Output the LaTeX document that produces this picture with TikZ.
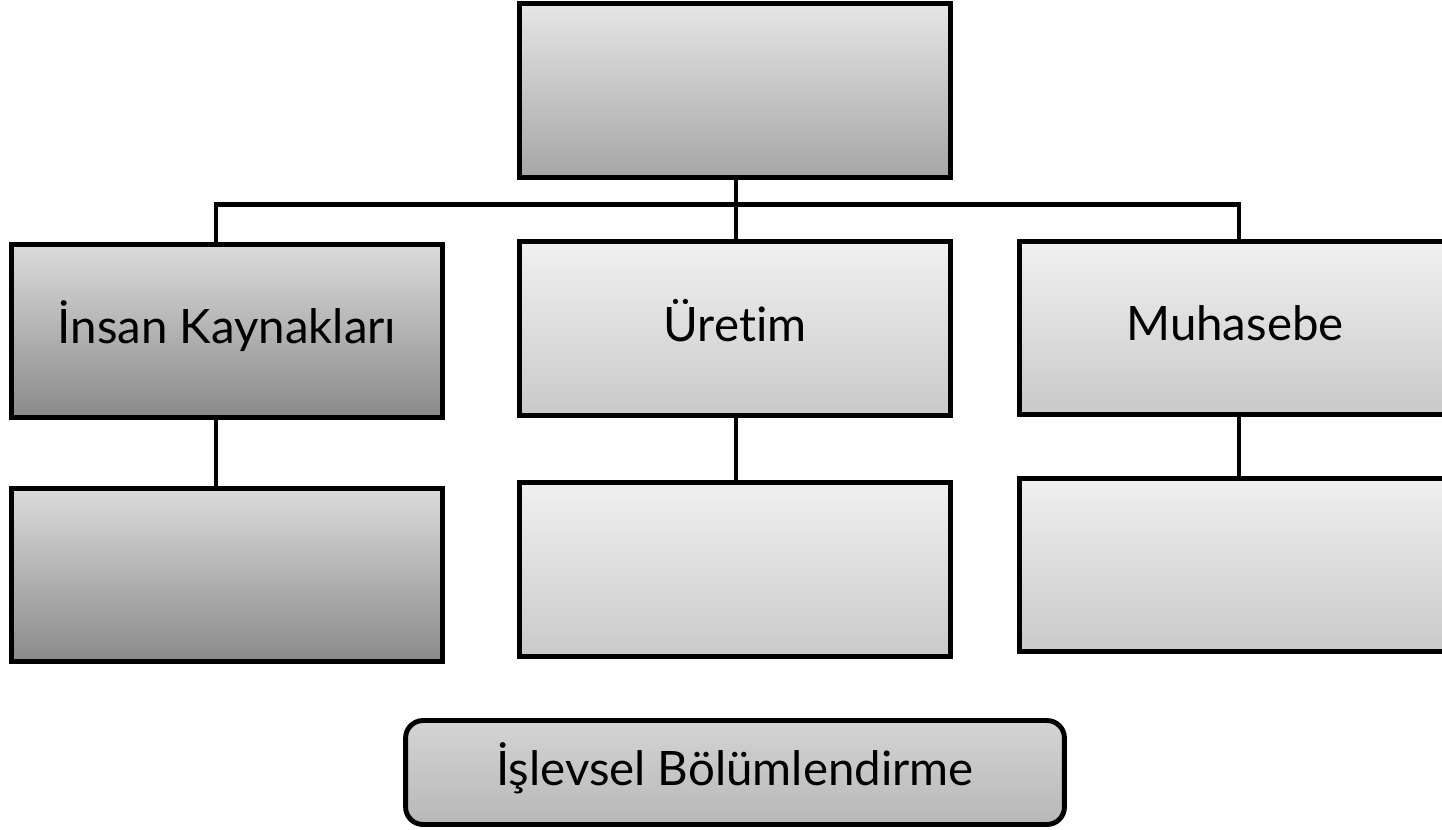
\documentclass[tikz,border=0pt]{standalone}
\usepackage{fontspec}
\setmainfont{Lato}[Ligatures=NoCommon]
\usepackage{tikz}
\usetikzlibrary{positioning, calc}

\definecolor{boxtop}{rgb}{0.90, 0.90, 0.90}
\definecolor{boxlow}{rgb}{0.65, 0.65, 0.65}
\definecolor{darktop}{rgb}{0.86, 0.86, 0.86}
\definecolor{darklow}{rgb}{0.54, 0.54, 0.54}
\definecolor{palettop}{rgb}{0.94, 0.94, 0.94}
\definecolor{palelow}{rgb}{0.79, 0.79, 0.79}
\definecolor{tagtop}{rgb}{0.83, 0.83, 0.83}
\definecolor{taglow}{rgb}{0.72, 0.72, 0.72}

\begin{document}
\begin{tikzpicture}[x=0.02cm, y=-0.02cm]
		\tikzstyle{unit}=[draw=black, line width=2.8pt, rectangle, inner sep=0pt, minimum width=8.62cm, minimum height=3.47cm, font=\fontsize{27}{32}\selectfont, text=black, text height=0.75cm, text depth=0.25cm]
		\tikzstyle{unitmid}=[unit, top color=boxtop, bottom color=boxlow]
		\tikzstyle{unitdark}=[unit, top color=darktop, bottom color=darklow]
		\tikzstyle{unitpale}=[unit, top color=palettop, bottom color=palelow]
		\tikzstyle{link}=[line width=2.8pt]
		
		\useasboundingbox (0,0) rectangle (1442,829);
		
		\node[unitmid](head) at (735,90.5) {};
		
		\node[unitdark](hr) at (227,331) {İnsan Kaynakları};
		\node[unitpale](prod) at (735,328.5) {Üretim};
		\node[unitpale](acc) at (1235,328) {Muhasebe};
		
		\node[unitdark](hrsub) at (227,575) {};
		\node[unitpale](prodsub) at (735,569.5) {};
		\node[unitpale](accsub) at (1235,565) {};
		
		\node[unit, rounded corners=0.35cm, minimum width=13.18cm, minimum height=2.08cm, top color=tagtop, bottom color=taglow](tag) at (735,772.5) {İşlevsel Bölümlendirme};
		
		%% bus under the head box
		\coordinate (busA) at (216,204.5);
		\coordinate (busB) at (736,204.5);
		\coordinate (busC) at (1239,204.5);
		\draw[link] (head.south -| busB)--(busB);
		\draw[link, line cap=rect] (busA)--(busC);
		\draw[link] (busA)--(busA |- hr.north);
		\draw[link] (busB)--(busB |- prod.north);
		\draw[link] (busC)--(busC |- acc.north);
		
		\draw[link] (hr.south -| busA)--(hrsub.north -| busA);
		\draw[link] (prod.south -| busB)--(prodsub.north -| busB);
		\draw[link] (acc.south -| busC)--(accsub.north -| busC);
\end{tikzpicture}
\end{document}
